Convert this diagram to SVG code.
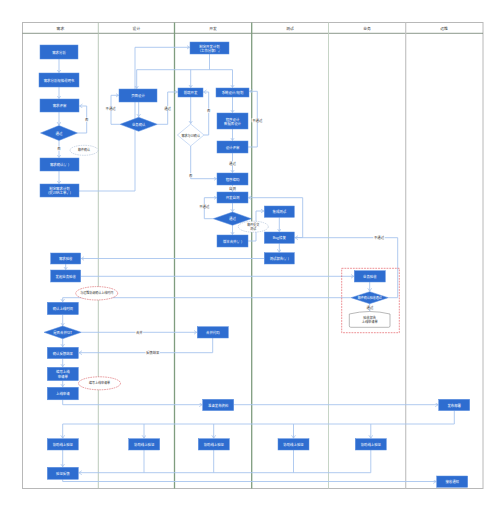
<svg xmlns="http://www.w3.org/2000/svg" width="500" height="506" viewBox="0 0 500 506">
<defs>
<marker id="ar" markerUnits="userSpaceOnUse" markerWidth="6" markerHeight="6" refX="3" refY="2" orient="auto">
<path d="M0,0 L3,2 L0,4" fill="none" stroke="#a3c0ea" stroke-width="0.7"/>
</marker>
<style>
.n rect,.n path.b{fill:#2e6dd0;stroke:#5a8ee0;stroke-width:0.5}
.n text{fill:#ffffff;font-family:"Noto Sans CJK SC","Noto Sans",sans-serif;font-size:3.4px;text-anchor:middle;dominant-baseline:central}
.c path{fill:none;stroke:#a8c5ee;stroke-width:0.9}
.c path.a{marker-end:url(#ar)}
.lb rect{fill:#ffffff}
.lb text{fill:#333333;font-family:"Noto Sans CJK SC","Noto Sans",sans-serif;font-size:3.4px;text-anchor:middle;dominant-baseline:central}
.h{fill:#333333;font-family:"Noto Sans CJK SC","Noto Sans",sans-serif;font-size:3.8px;text-anchor:middle;dominant-baseline:central}
.cl ellipse{fill:#ffffff;stroke:#9bb0cc;stroke-width:0.5;stroke-dasharray:1.5 0.8}
.cl.r ellipse{stroke:#d0383e;stroke-dasharray:1.6 0.8}
.cl text{fill:#333333;font-family:"Noto Sans CJK SC","Noto Sans",sans-serif;font-size:3px;text-anchor:middle;dominant-baseline:central}
</style>
</defs>
<rect width="500" height="506" fill="#ffffff"/>
<g id="lanes">
<rect x="22.5" y="22.5" width="460.5" height="466" fill="none" stroke="#b8b8b8" stroke-width="1"/>
<line x1="22.5" y1="33.3" x2="483" y2="33.3" stroke="#6e7e6e" stroke-width="0.8"/>
<line x1="98.3" y1="22.5" x2="98.3" y2="488.5" stroke="#b3c4b3" stroke-width="0.9"/>
<line x1="174.5" y1="22.5" x2="174.5" y2="488.5" stroke="#7f9d7f" stroke-width="1.3"/>
<line x1="251.7" y1="22.5" x2="251.7" y2="488.5" stroke="#7f9d7f" stroke-width="1.3"/>
<line x1="328.5" y1="22.5" x2="328.5" y2="488.5" stroke="#bfcfbf" stroke-width="0.9"/>
<line x1="405.7" y1="22.5" x2="405.7" y2="488.5" stroke="#c4c4c4" stroke-width="1.2"/>
<text class="h" x="60.4" y="28">需求</text>
<text class="h" x="136.4" y="28">设计</text>
<text class="h" x="213" y="28">开发</text>
<text class="h" x="290" y="28">测试</text>
<text class="h" x="367" y="28">业务</text>
<text class="h" x="444" y="28">运维</text>
</g>
<g id="connectors" class="c">
<path class="a" d="M59,59 V72.5"/>
<path class="a" d="M59,87 V98.5"/>
<path class="a" d="M59,112 V125"/>
<path class="a" d="M77.5,133 H86.7 V106 H79.5"/>
<path class="a" d="M59,140.5 V157.5"/>
<path class="a" d="M59,171 V183.5"/>
<path class="a" d="M79,191 H135 V47.3 H189.5"/>
<path d="M209.5,54 V69.7 M136.7,69.7 H232.5"/>
<path class="a" d="M136.7,69.7 V88.5"/>
<path class="a" d="M190.7,69.7 V87.5"/>
<path class="a" d="M232.5,69.7 V87.5"/>
<path class="a" d="M138.7,102 V116.8"/>
<path class="a" d="M120,124.3 H111 V95.3 H118.5"/>
<path class="a" d="M157.3,124.3 H167.7 V92 H177.5"/>
<path class="a" d="M190.7,97 V123.5"/>
<path class="a" d="M204,135 H208.7 V92 H203.5"/>
<path class="a" d="M190.7,146 V178.7 H216.5"/>
<path class="a" d="M232.5,97 V112.5"/>
<path class="a" d="M232.5,129 V140.5"/>
<path class="a" d="M248,147 H257.3 V91.3 H249.5"/>
<path class="a" d="M232.5,153 V172.5"/>
<path class="a" d="M232.5,185 V191.5"/>
<path class="a" d="M232.5,203 V211.7"/>
<path class="a" d="M213.3,218.7 H204.3 V197.7 H216.5"/>
<path class="a" d="M232.5,225.3 V234.5"/>
<path class="a" d="M248,241 H256 V211 H263.8"/>
<path class="a" d="M279.3,217.3 V231.5"/>
<path class="a" d="M279.3,243.3 V252.2"/>
<path class="a" d="M294.3,237.5 H302.7 V197.7 H248.5"/>
<path class="a" d="M388.3,297.7 H397.7 V237.7 H295"/>
<path class="a" d="M264,258.5 H81.3"/>
<path class="a" d="M65.7,264 V269.5"/>
<path class="a" d="M80.7,276.3 H353.8"/>
<path class="a" d="M369.7,282 V291.2"/>
<path class="a" d="M351,297.7 H62.7 V301.8"/>
<path class="a" d="M369.7,303.7 V310.8"/>
<path class="a" d="M62.7,314.7 V325.6"/>
<path class="a" d="M81.3,332.3 H196.8"/>
<path class="a" d="M62.7,338.7 V346.8"/>
<path class="a" d="M212.7,338 V352.7 H79"/>
<path class="a" d="M62.7,358.7 V366.8"/>
<path class="a" d="M62.7,380.7 V386.8"/>
<path class="a" d="M62.7,399.8 V404.7 H202.2"/>
<path class="a" d="M233.7,404.7 H438.2"/>
<path class="a" d="M454.3,410.7 V424 H62.7 V438.2"/>
<path class="a" d="M144,424 V438.2"/>
<path class="a" d="M213.7,424 V438.2"/>
<path class="a" d="M293.5,424 V438.2"/>
<path class="a" d="M370.8,424 V438.2"/>
<path class="a" d="M62.7,450 V466.8"/>
<path d="M144,450 V472.7 M213.7,450 V472.7 M293.5,450 V472.7"/>
<path class="a" d="M370.8,450 V472.7 H78.8"/>
<path class="a" d="M62.7,479.3 V481.5 H436.2"/>
</g>
<g id="labels" class="lb">
<rect x="85" y="117.7" width="3.6" height="4"/><text x="86.8" y="119.7">否</text>
<rect x="57.2" y="146.7" width="3.6" height="4"/><text x="59" y="148.7">否</text>
<rect x="104.9" y="106.7" width="11.4" height="4"/><text x="110.6" y="108.7">不通过</text>
<rect x="163.8" y="106" width="7.6" height="4"/><text x="167.6" y="108">通过</text>
<rect x="206.9" y="108.7" width="3.6" height="4"/><text x="208.7" y="110.7">否</text>
<rect x="188.9" y="173.3" width="3.6" height="4"/><text x="190.7" y="175.3">否</text>
<rect x="251.6" y="118.3" width="11.4" height="4"/><text x="257.3" y="120.3">不通过</text>
<rect x="228.7" y="161.3" width="7.6" height="4"/><text x="232.5" y="163.3">通过</text>
<rect x="228.7" y="186.3" width="7.6" height="3.9"/><text x="232.5" y="188.3">自测</text>
<rect x="198.6" y="204" width="11.4" height="4"/><text x="204.3" y="206">不通过</text>
<rect x="373.3" y="235.7" width="11.4" height="4"/><text x="379" y="237.7">不通过</text>
<rect x="366.2" y="305.4" width="7.6" height="4"/><text x="370" y="307.4">通过</text>
<rect x="135.5" y="330.3" width="7.6" height="4"/><text x="139.3" y="332.3">合并</text>
<rect x="145.5" y="350.7" width="14.4" height="4"/><text x="152.7" y="352.7">反馈结果</text>
</g>
<g id="n1" class="n"><rect x="40" y="45" width="38" height="14"/><text x="59" y="52">需求分析</text></g>
<g id="n2" class="n"><rect x="39" y="73" width="40" height="14"/><text x="59" y="80">需求分析规格说明书</text></g>
<g id="n3" class="n"><rect x="40" y="99" width="39" height="13"/><text x="59.5" y="105.5">需求评审</text></g>
<g id="d1" class="n"><path class="b" d="M59,125.5 L77.5,133 L59,140.5 L40.5,133 Z"/><text x="59" y="133">通过</text></g>
<g id="cloud1" class="cl"><ellipse cx="84" cy="150.3" rx="14" ry="5"/><text x="84" y="150.3">邮件确认</text></g>
<g id="n4" class="n"><rect x="40" y="158" width="39" height="13"/><text x="59.5" y="164.5">需求确认(√)</text></g>
<g id="n5" class="n"><rect x="40" y="184" width="39" height="13"/><text x="59.5" y="188.6">制定需求计划</text><text x="59.5" y="192.6">(提JIRA工单√)</text></g>
<g id="n6" class="n"><rect x="119" y="89" width="38" height="13"/><text x="138" y="95.5">页面设计</text></g>
<g id="d2" class="n"><path class="b" d="M138.7,117.3 L157.3,124.3 L138.7,131.3 L120,124.3 Z"/><text x="138.7" y="124.3">业务确认</text></g>
<g id="n7" class="n"><rect x="190" y="42" width="39" height="12"/><text x="209.5" y="46.1">制定开发计划</text><text x="209.5" y="50.1">（工作分解）√</text></g>
<g id="n8" class="n"><rect x="178" y="88" width="25" height="9"/><text x="190.5" y="92.5">前端开发</text></g>
<g id="n9" class="n"><rect x="216" y="88" width="33" height="9"/><text x="232.5" y="92.5">系统设计/规划</text></g>
<g id="d3"><path d="M190.7,124 L204,135 L190.7,146 L177.4,135 Z" fill="#ffffff" stroke="#a8c5ee" stroke-width="0.6"/><text x="190.7" y="135" fill="#333333" font-family="Noto Sans CJK SC, Noto Sans, sans-serif" font-size="3.1" text-anchor="middle" dominant-baseline="central">需求与UI确认</text></g>
<g id="n10" class="n"><rect x="217" y="113" width="31" height="16"/><text x="232.5" y="119">程序设计</text><text x="232.5" y="123.3">数据库设计</text></g>
<g id="n11" class="n"><rect x="217" y="141" width="31" height="12"/><text x="232.5" y="147">设计评审</text></g>
<g id="n12" class="n"><rect x="217" y="173" width="31" height="12"/><text x="232.5" y="179">程序编码</text></g>
<g id="n13" class="n"><rect x="217" y="192" width="31" height="11"/><text x="232.5" y="197.5">开发自测</text></g>
<g id="d4" class="n"><path class="b" d="M232.5,212 L251.3,218.7 L232.5,225.3 L213.3,218.7 Z"/><text x="232.5" y="218.7">通过</text></g>
<g id="n14" class="n"><rect x="217" y="235" width="31" height="12"/><text x="232.5" y="241">版本合并(√)</text></g>
<g id="cloud2" class="cl"><ellipse cx="253.3" cy="226.7" rx="15" ry="5.5"/><text x="253.3" y="224.8">邮件提交</text><text x="253.3" y="228.6">测试</text></g>
<g id="n15" class="n"><rect x="264.3" y="206" width="30" height="11.3"/><text x="279.3" y="211.7">集成测试</text></g>
<g id="n16" class="n"><rect x="264.3" y="232" width="30" height="11.3"/><text x="279.3" y="237.7">Bug修复</text></g>
<g id="n17" class="n"><rect x="264.3" y="252.7" width="30" height="11.3"/><text x="279.3" y="258.4">测试报告(√)</text></g>
<g id="n18" class="n"><rect x="50.7" y="253" width="30" height="11"/><text x="65.7" y="258.5">需求验收</text></g>
<g id="n19" class="n"><rect x="50.7" y="270" width="30" height="12"/><text x="65.7" y="276">发起业务验收</text></g>
<g id="cloud3" class="cl r"><ellipse cx="96.7" cy="293.3" rx="21" ry="6.7"/><text x="96.7" y="293.3">与运维协调确认上线时间</text></g>
<g id="n20" class="n"><rect x="47.3" y="302.3" width="31" height="12.3"/><text x="62.8" y="308.5">确认上线时间</text></g>
<g id="d5" class="n"><path class="b" d="M62.7,326 L81.3,332.3 L62.7,338.7 L44,332.3 Z"/><text x="62.7" y="332.3">是否合并GIT</text></g>
<g id="n21" class="n"><rect x="197.3" y="326.7" width="31" height="11.3"/><text x="212.8" y="332.4">合并代码</text></g>
<g id="n22" class="n"><rect x="47.3" y="347.3" width="31" height="11.3"/><text x="62.8" y="353">确认反馈结果</text></g>
<g id="n23" class="n"><rect x="47.3" y="367.3" width="31" height="13.3"/><text x="62.8" y="371.9">编写上线</text><text x="62.8" y="376.1">申请单</text></g>
<g id="cloud4" class="cl r"><ellipse cx="99.5" cy="383.3" rx="21" ry="6.5"/><text x="99.5" y="383.3">编写上线申请单</text></g>
<g id="n24" class="n"><rect x="47.3" y="387.3" width="31" height="12.5"/><text x="62.8" y="393.5">上线申请</text></g>
<g id="n25" class="n"><rect x="202.7" y="399.3" width="31" height="11.3"/><text x="218.2" y="405">准备发布资料</text></g>
<g id="n26" class="n"><rect x="438.7" y="399.3" width="31" height="11.3"/><text x="454.2" y="405">发布部署</text></g>
<g id="n27" class="n"><rect x="47.3" y="438.7" width="31" height="11.3"/><text x="62.8" y="444.4">协助线上验证</text></g>
<g id="n28" class="n"><rect x="128.7" y="438.7" width="31" height="11.3"/><text x="144.2" y="444.4">协助线上验证</text></g>
<g id="n29" class="n"><rect x="198.3" y="438.7" width="31" height="11.3"/><text x="213.8" y="444.4">协助线上验证</text></g>
<g id="n30" class="n"><rect x="278" y="438.7" width="31" height="11.3"/><text x="293.5" y="444.4">协助线上验证</text></g>
<g id="n31" class="n"><rect x="355.3" y="438.7" width="31" height="11.3"/><text x="370.8" y="444.4">协助线上验证</text></g>
<g id="n32" class="n"><rect x="47.3" y="467.3" width="31" height="12"/><text x="62.8" y="473.3">验证反馈</text></g>
<g id="n33" class="n"><rect x="436.7" y="476" width="31" height="11.3"/><text x="452.2" y="481.7">接收通知</text></g>
<g id="accept-box"><rect x="341.7" y="268.3" width="57.6" height="64.4" fill="none" stroke="#e0454b" stroke-width="0.6" stroke-dasharray="1.8 1"/></g>
<g id="n34" class="n"><rect x="354.3" y="270.7" width="31" height="11.3"/><text x="369.8" y="276.4">业务验收</text></g>
<g id="d6" class="n"><path class="b" d="M369.7,291.7 L388.3,297.7 L369.7,303.7 L351,297.7 Z"/><text x="369.7" y="297.7" style="font-size:3px">邮件确认验收通过</text></g>
<g id="n35"><path d="M349.3,314 Q369.7,309 390,314 V325.8 Q390,327.3 388.5,327.3 H350.8 Q349.3,327.3 349.3,325.8 Z" fill="#ffffff" stroke="#8a8a8a" stroke-width="0.6"/><text x="369.7" y="317.6" fill="#333333" font-family="Noto Sans CJK SC, Noto Sans, sans-serif" font-size="3.2" text-anchor="middle" dominant-baseline="central">验收报告</text><text x="369.7" y="321.9" fill="#333333" font-family="Noto Sans CJK SC, Noto Sans, sans-serif" font-size="3.2" text-anchor="middle" dominant-baseline="central">上线申请单</text></g>
</svg>
